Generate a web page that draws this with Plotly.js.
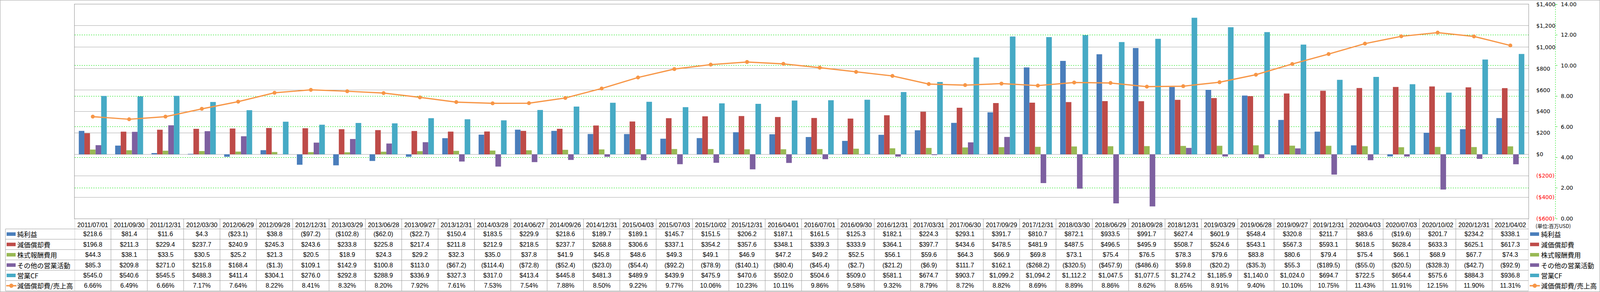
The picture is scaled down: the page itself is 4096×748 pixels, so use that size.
<!DOCTYPE html>
<html><head><meta charset="utf-8">
<script src="https://cdn.plot.ly/plotly-3.0.1.min.js"></script>
<style>html,body{margin:0;padding:0;background:#fff;overflow:hidden;} #chart{width:4096px;height:748px;}</style>
</head><body><div id="chart"></div>
<script>
// ---------- data ----------
const dates = ['2011/07/01','2011/09/30','2011/12/31','2012/03/30','2012/06/29','2012/09/28','2012/12/31','2013/03/29','2013/06/28','2013/09/27',
  '2013/12/31','2014/03/28','2014/06/27','2014/09/26','2014/12/31','2015/04/03','2015/07/03','2015/10/02','2015/12/31','2016/04/01',
  '2016/07/01','2016/09/30','2016/12/31','2017/03/31','2017/06/30','2017/09/29','2017/12/31','2018/03/30','2018/06/29','2018/09/28',
  '2018/12/31','2019/03/29','2019/06/28','2019/09/27','2019/12/31','2020/04/03','2020/07/03','2020/10/02','2020/12/31','2021/04/02'];
const netIncome = [218.6,81.4,11.6,4.3,-23.1,38.8,-97.2,-102.8,-62.0,-22.7,
  150.4,183.5,229.9,218.6,189.7,189.1,145.7,151.5,206.2,187.1,
  161.5,125.3,182.1,224.3,293.1,391.7,810.7,872.1,933.5,991.7,
  627.4,601.9,548.4,320.8,211.7,83.6,-19.6,201.7,234.2,338.1];
const depreciation = [196.8,211.3,229.4,237.7,240.9,245.3,243.6,233.8,225.8,217.4,
  211.8,212.9,218.5,237.7,268.8,306.6,337.1,354.2,357.6,348.1,
  339.3,333.9,364.1,397.7,434.6,478.5,481.9,487.5,496.5,495.9,
  508.7,524.6,543.1,567.3,593.1,618.5,628.4,633.3,625.1,617.3];
const stockComp = [44.3,38.1,33.5,30.5,25.2,21.3,20.5,18.9,24.3,29.2,
  32.3,35.0,37.8,41.9,45.8,48.6,49.3,49.1,46.9,47.2,
  49.2,52.5,56.1,59.6,64.3,66.9,69.8,73.1,75.4,76.5,
  78.3,79.6,83.8,80.6,79.4,75.4,66.1,68.9,67.7,74.3];
const otherOps = [85.3,209.8,271.0,215.8,168.4,-1.3,109.1,142.9,100.8,113.0,
  -67.2,-114.4,-72.8,-52.4,-23.0,-54.4,-92.2,-78.9,-140.1,-80.4,
  -45.4,-2.7,-21.2,-6.9,111.7,162.1,-268.2,-320.5,-457.9,-486.6,
  59.8,-20.2,-35.3,55.3,-189.5,-55.0,-20.5,-328.3,-42.7,-92.9];
const operatingCF = [545.0,540.6,545.5,488.3,411.4,304.1,276.0,292.8,288.9,336.9,
  327.3,317.0,413.4,445.8,481.3,489.9,439.9,475.9,470.6,502.0,
  504.6,509.0,581.1,674.7,903.7,1099.2,1094.2,1112.2,1047.5,1077.5,
  1274.2,1185.9,1140.0,1024.0,694.7,722.5,654.4,575.6,884.3,936.8];
const depRatio = [6.66,6.49,6.66,7.17,7.64,8.22,8.41,8.32,8.20,7.92,
  7.61,7.53,7.54,7.88,8.50,9.22,9.77,10.06,10.23,10.11,
  9.86,9.58,9.32,8.79,8.72,8.82,8.69,8.89,8.86,8.62,
  8.65,8.91,9.40,10.10,10.75,11.43,11.91,12.15,11.90,11.31];

const barNames = ['純利益','減価償却費','株式報酬費用','その他の営業活動','営業CF'];
const lineName = '減価償却費/売上高';
const barColors = ['#4A7EBB','#BE4B48','#98B954','#7D60A0','#46AAC5'];
const lineColor = '#F79646';
const yTickVals = [1400,1200,1000,800,600,400,200,0,-200,-400,-600];
const y2TickVals = [0,2,4,6,8,10,12,14];
const unitLabel = '(単位:百万USD)';

// ---------- geometry (px in 4096x748 window) ----------
const L = 191, R_PLOT = 3913, R_AX2 = 3982, T = 11, B = 560, W = 4096, H = 748;
const PW = R_AX2 - L, PH = B - T;
const px = x => (x - L) / PW;
const py = y => (B - y) / PH;
const ROW_H = 26.45;
const rowCenter = k => B + ROW_H * (k + 0.5);
const rowTop = k => B + ROW_H * k;
const GRID = '#999999';
const GREEN = '#00E000';
const TABLE_FONT = {family: 'Liberation Sans, Arial, sans-serif', size: 16, color: '#000'};
const JP_FONT = {family: 'Noto Sans CJK JP, sans-serif', size: 17, color: '#000'};

function fmtMoney(v) {
  const s = Math.abs(v).toLocaleString('en-US', {minimumFractionDigits: 1, maximumFractionDigits: 1});
  return v < 0 ? '($' + s + ')' : '$' + s;
}
function fmtAxis(v) {
  const s = Math.abs(v).toLocaleString('en-US');
  return v < 0 ? '<span style="color:#FF0000">($' + s + ')</span>' : '$' + s;
}

// ---------- traces ----------
const barSeries = [netIncome, depreciation, stockComp, otherOps, operatingCF];
const traces = barSeries.map((vals, i) => ({
  type: 'bar', name: barNames[i], x: dates, y: vals,
  marker: {color: barColors[i], line: {width: 0}}, yaxis: 'y', hoverinfo: 'skip'
}));
traces.push({
  type: 'scatter', mode: 'lines+markers', name: lineName, x: dates, y: depRatio, yaxis: 'y2',
  line: {color: lineColor, width: 3.2}, marker: {color: lineColor, size: 10, symbol: 'circle'}, hoverinfo: 'skip'
});

// ---------- table shapes & annotations ----------
const shapes = [];
const annotations = [];
// outer border
shapes.push({type: 'rect', xref: 'paper', yref: 'paper', x0: px(0.5), x1: px(W - 0.5), y0: py(0.5), y1: py(H - 0.5), line: {color: '#A0A0A0', width: 1}});
// horizontal table lines
for (let k = 1; k <= 7; k++) {
  shapes.push({type: 'line', xref: 'paper', yref: 'paper', x0: px(14), x1: px(R_PLOT), y0: py(rowTop(k)), y1: py(rowTop(k)), line: {color: GRID, width: 1}});
}
// left border of legend column
shapes.push({type: 'line', xref: 'paper', yref: 'paper', x0: px(14), x1: px(14), y0: py(rowTop(1)), y1: py(rowTop(7)), line: {color: GRID, width: 1}});
// vertical column lines
for (let i = 0; i <= dates.length; i++) {
  shapes.push({type: 'line', xref: 'x', yref: 'paper', x0: i - 0.5, x1: i - 0.5, y0: py(rowTop(0)), y1: py(rowTop(7)), line: {color: GRID, width: 1}});
}
// secondary axis dashed line
shapes.push({type: 'line', xref: 'paper', yref: 'paper', x0: 1, x1: 1, y0: 0, y1: 1, line: {color: GREEN, width: 1, dash: '3px,3px'}});

// legend swatches (left in table, right of table)
function addLegend(k, xSw0, xText, name, color, isLine) {
  const yc = rowCenter(k);
  if (isLine) {
    shapes.push({type: 'line', xref: 'paper', yref: 'paper', x0: px(xSw0 - 1), x1: px(xSw0 + 25), y0: py(yc), y1: py(yc), line: {color: color, width: 3.5}});
    shapes.push({type: 'circle', xref: 'paper', yref: 'paper', x0: px(xSw0 + 7), x1: px(xSw0 + 17), y0: py(yc + 5), y1: py(yc - 5), fillcolor: color, line: {color: color, width: 1}});
  } else {
    shapes.push({type: 'rect', xref: 'paper', yref: 'paper', x0: px(xSw0), x1: px(xSw0 + 23), y0: py(yc + 4.5), y1: py(yc - 4.5), fillcolor: color, line: {width: 0}});
  }
  annotations.push({xref: 'paper', yref: 'paper', x: px(xText), y: py(yc), xanchor: 'left', yanchor: 'middle', showarrow: false, text: name, font: JP_FONT});
}
const allNames = barNames.concat([lineName]);
const allColors = barColors.concat([lineColor]);
allNames.forEach((n, i) => {
  addLegend(i + 1, 17, 42, n, allColors[i], i === 5);
  addLegend(i + 1, 3917, 3943, n, allColors[i], i === 5);
});

// table values
barSeries.forEach((vals, s) => {
  vals.forEach((v, i) => {
    annotations.push({xref: 'x', yref: 'paper', x: i, y: py(rowCenter(s + 1)), xanchor: 'center', yanchor: 'middle', showarrow: false, text: fmtMoney(v), font: TABLE_FONT});
  });
});
depRatio.forEach((v, i) => {
  annotations.push({xref: 'x', yref: 'paper', x: i, y: py(rowCenter(6)), xanchor: 'center', yanchor: 'middle', showarrow: false, text: v.toFixed(2) + '%', font: TABLE_FONT});
});
// unit label
annotations.push({xref: 'paper', yref: 'paper', x: px(3929), y: py(578), xanchor: 'left', yanchor: 'middle', showarrow: false, text: unitLabel, font: {family: 'Noto Sans CJK JP, sans-serif', size: 13, color: '#000'}});

const layout = {
  width: W, height: H,
  margin: {l: L, r: W - R_AX2, t: T, b: H - B, pad: 0},
  paper_bgcolor: '#fff', plot_bgcolor: '#fff',
  showlegend: false,
  barmode: 'group', bargap: 0.23, bargroupgap: 0,
  font: {family: 'Liberation Sans, Arial, sans-serif', color: '#000'},
  xaxis: {
    type: 'category', domain: [0, (R_PLOT - L) / PW], range: [-0.5, dates.length - 0.5],
    showline: true, mirror: true, linecolor: '#8C8C8C', linewidth: 1,
    showgrid: false, ticks: '', tickangle: 0, ticklabelstandoff: 2,
    tickfont: TABLE_FONT, fixedrange: true
  },
  yaxis: {
    side: 'right', range: [-600, 1400], tickvals: yTickVals, ticktext: yTickVals.map(fmtAxis),
    showline: true, mirror: true, linecolor: '#8C8C8C', linewidth: 1,
    showgrid: true, gridcolor: '#A6A6A6', gridwidth: 1, zeroline: false,
    ticks: '', ticklabelstandoff: 16,
    tickfont: {family: 'DejaVu Sans, sans-serif', size: 14, color: '#000'}, fixedrange: true
  },
  yaxis2: {
    overlaying: 'y', side: 'right', anchor: 'free', position: 1,
    range: [0, 14], tickvals: y2TickVals, tickformat: '.2f', ticksuffix: '%',
    showline: false, showgrid: true, gridcolor: GREEN, griddash: '3px,3px', gridwidth: 1, zeroline: false,
    ticks: 'outside', ticklen: 4, tickcolor: GREEN, tickwidth: 1, ticklabelstandoff: 6,
    tickfont: {family: 'DejaVu Sans, sans-serif', size: 14, color: '#000'}, fixedrange: true
  },
  shapes: shapes,
  annotations: annotations
};

Plotly.newPlot('chart', traces, layout, {displayModeBar: false, staticPlot: true});
</script>
</body></html>
